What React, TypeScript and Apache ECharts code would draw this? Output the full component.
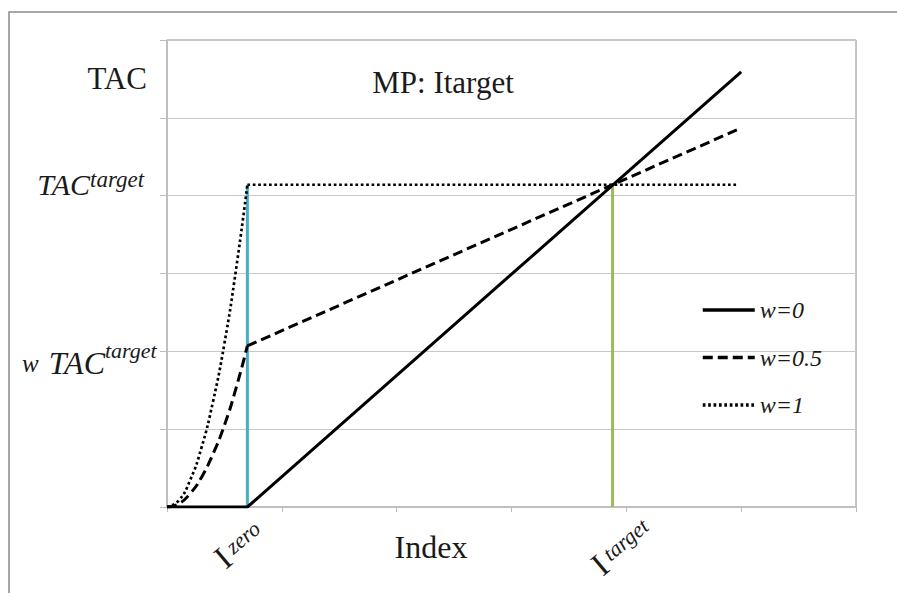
import React, { useEffect, useRef } from "react";
import * as echarts from "echarts";

// ---- data ----
const legendNames = ["w=0", "w=0.5", "w=1"];
const axisRange = [0, 6];
const iZero = 0.7;
const iTarget = 3.88;
const tacTarget = 4.14;

const w0Line: number[][] = [[0, 0], [0.7, 0], [5.0, 5.59]];
const w05Curve: number[][] = [[0, 0], [0.1, 0.04], [0.2, 0.17], [0.3, 0.38], [0.4, 0.68], [0.5, 1.05], [0.6, 1.52], [0.7, 2.07]];
const w05Line: number[][] = [[0.7, 2.07], [4.97, 4.85]];
const w1Curve: number[][] = [[0, 0], [0.1, 0.08], [0.2, 0.34], [0.3, 0.76], [0.4, 1.35], [0.5, 2.1], [0.6, 3.04], [0.7, 4.14]];
const w1Line: number[][] = [[0.7, 4.14], [4.97, 4.14]];
const zeroMarker: number[][] = [[iZero, 0], [iZero, tacTarget]];
const targetMarker: number[][] = [[iTarget, 0], [iTarget, tacTarget]];

const serif = "'Liberation Serif', 'Times New Roman', serif";
const ink = "#1a1a1a";

function txt(x: number, y: number, text: string, size: number, italic: boolean, align: string) {
  return {
    type: "text",
    x,
    y,
    style: {
      text,
      fontSize: size,
      fontFamily: serif,
      fontStyle: italic ? "italic" : "normal",
      fill: ink,
      align,
      verticalAlign: "middle",
    },
  };
}

function rotLabel(x: number, y: number, sup: string) {
  return {
    type: "group",
    x,
    y,
    rotation: (40 * Math.PI) / 180,
    children: [txt(0, 0, "I", 33, false, "center"), txt(10, -3, sup, 22, true, "left")],
  };
}

function lineSeries(name: string, data: number[][], color: string, width: number, type: any, z = 3) {
  return {
    type: "line",
    name,
    data,
    symbol: "none",
    showSymbol: false,
    z,
    lineStyle: { color, width, type, cap: "butt" },
    itemStyle: { color },
    emphasis: { disabled: true },
  };
}

export default function App() {
  const ref = useRef<HTMLDivElement>(null);
  useEffect(() => {
    const chart = echarts.init(ref.current!, null, { renderer: "svg" });
    const option: any = {
      animation: false,
      backgroundColor: "#fff",
      grid: { left: 167, top: 40, right: 41, bottom: 86, show: true, borderColor: "#8c8c8c", borderWidth: 1 },
      xAxis: {
        type: "value",
        min: axisRange[0],
        max: axisRange[1],
        interval: 1,
        axisLine: { show: true, lineStyle: { color: "#bdbdbd", width: 1.5 } },
        axisTick: { show: true, length: 5, lineStyle: { color: "#bdbdbd" } },
        axisLabel: { show: false },
        splitLine: { show: false },
      },
      yAxis: {
        type: "value",
        min: axisRange[0],
        max: axisRange[1],
        interval: 1,
        axisLine: { show: true, lineStyle: { color: "#bdbdbd", width: 1.5 } },
        axisTick: { show: true, length: 7, lineStyle: { color: "#bdbdbd" } },
        axisLabel: { show: false },
        splitLine: { show: true, lineStyle: { color: "#c8c8c8", width: 1.2 } },
      },
      legend: {
        data: legendNames,
        orient: "vertical",
        left: 701,
        top: 298,
        padding: 0,
        itemWidth: 52,
        itemHeight: 14,
        itemGap: 23.5,
        selectedMode: false,
        itemStyle: { opacity: 0 },
        lineStyle: { width: 3.5 },
        textStyle: { fontFamily: serif, fontStyle: "italic", fontSize: 24, color: ink, lineHeight: 24 },
      },
      series: [
        lineSeries("zero", zeroMarker, "#4bacc6", 3, "solid", 2),
        lineSeries("target", targetMarker, "#9bbb59", 3, "solid", 2),
        lineSeries(legendNames[0], w0Line, "#000", 3, "solid"),
        { ...lineSeries(legendNames[1], w05Curve, "#000", 3, [10, 5]), smooth: true },
        lineSeries(legendNames[1], w05Line, "#000", 3, [10, 5]),
        { ...lineSeries(legendNames[2], w1Curve, "#000", 2.7, [2.7, 2.7]), smooth: true },
        lineSeries(legendNames[2], w1Line, "#000", 2.7, [2.7, 2.7]),
      ],
      graphic: [
        {
          type: "rect",
          shape: { x: 9, y: 12, width: 1000, height: 1000 },
          style: { fill: "none", stroke: "#8a8a8a", lineWidth: 1.5 },
          silent: true,
        },
        txt(443, 82.5, "MP: Itarget", 31, false, "center"),
        txt(431, 547, "Index", 32, false, "center"),
        txt(147, 78.5, "TAC", 31, false, "right"),
        txt(90, 184, "TAC", 30, true, "right"),
        txt(90, 179, "target", 23, true, "left"),
        txt(22, 363, "w", 25, true, "left"),
        txt(105, 363, "TAC", 32, true, "right"),
        txt(105, 350, "target", 22, true, "left"),
        rotLabel(223, 558, "zero"),
        rotLabel(600, 565, "target"),
      ],
    };
    chart.setOption(option);
    return () => chart.dispose();
  }, []);
  return (
    <div
      ref={ref}
      style={{ position: "absolute", left: 0, top: 0, width: 897, height: 593, background: "#fff" }}
    />
  );
}
